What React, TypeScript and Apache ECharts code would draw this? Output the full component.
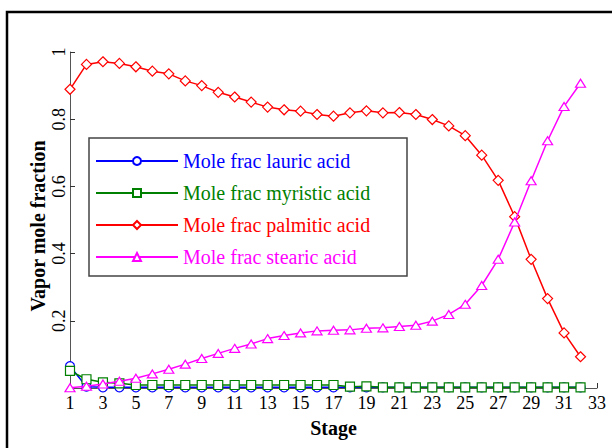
import React, { useEffect, useRef } from "react";
import * as echarts from "echarts";

const stages = [1,2,3,4,5,6,7,8,9,10,11,12,13,14,15,16,17,18,19,20,21,22,23,24,25,26,27,28,29,30,31,32];
const lauric = [0.065,0.004,0.002,0.002,0.002,0.002,0.002,0.002,0.002,0.002,0.002,0.002,0.002,0.002,0.002,0.002,0.002,0.002,0.002,0.002,0.002,0.002,0.002,0.002,0.002,0.002,0.002,0.002,0.002,0.002,0.002,0.002];
const myristic = [0.051,0.026,0.017,0.014,0.009,0.009,0.009,0.009,0.009,0.009,0.009,0.009,0.009,0.009,0.009,0.009,0.009,0.004,0.005,0.002,0.002,0.002,0.002,0.002,0.002,0.002,0.002,0.002,0.002,0.002,0.002,0.002];
const palmitic = [0.889,0.963,0.971,0.966,0.956,0.943,0.935,0.914,0.90,0.88,0.866,0.851,0.836,0.828,0.824,0.814,0.809,0.819,0.825,0.819,0.82,0.814,0.799,0.78,0.751,0.693,0.618,0.51,0.383,0.266,0.164,0.093];
const stearic = [0.001,0.005,0.012,0.02,0.029,0.042,0.056,0.071,0.088,0.103,0.118,0.131,0.147,0.156,0.164,0.170,0.172,0.173,0.178,0.179,0.183,0.187,0.199,0.219,0.249,0.305,0.383,0.494,0.617,0.736,0.838,0.907];

const seriesNames = ["Mole frac lauric acid", "Mole frac myristic acid", "Mole frac palmitic acid", "Mole frac stearic acid"];
const seriesColors = ["#0000ff", "#008000", "#ff0000", "#ff00ff"];
const seriesSymbols = ["circle", "rect", "diamond", "triangle"];
const seriesSizes: any[] = [9, 9, 10, [10, 8]];
const seriesValues = [lauric, myristic, palmitic, stearic];

const FONT = "Liberation Serif";

export default function App() {
  const ref = useRef<HTMLDivElement>(null);
  useEffect(() => {
    if (!ref.current) return;
    const chart = echarts.init(ref.current, null, { renderer: "svg" });
    const series = seriesValues.map((vals, i) => ({
      name: seriesNames[i],
      type: "line",
      data: stages.map((s, j) => [s, vals[j]]),
      symbol: seriesSymbols[i],
      symbolSize: seriesSizes[i],
      showAllSymbol: true,
      lineStyle: { color: seriesColors[i], width: 1.5 },
      itemStyle: { color: "#ffffff", borderColor: seriesColors[i], borderWidth: 1.2 },
      emphasis: { disabled: true },
      z: 2 + i,
    }));
    chart.setOption({
      animation: false,
      backgroundColor: "#ffffff",
      textStyle: { fontFamily: FONT },
      graphic: [
        {
          type: "rect",
          shape: { x: 7, y: 12, width: 700, height: 600 },
          style: { fill: "none", stroke: "#000000", lineWidth: 2.5 },
          z: 10,
        },
        {
          type: "rect",
          shape: { x: 89, y: 138, width: 318, height: 138 },
          style: { fill: "#ffffff", stroke: "#444444", lineWidth: 1.5 },
          z: 3,
        },
      ],
      legend: {
        orient: "vertical",
        left: 95,
        top: 151,
        padding: 0,
        itemWidth: 82,
        itemHeight: 10,
        itemGap: 12,
        z: 5,
        textStyle: { fontFamily: FONT, fontSize: 20 },
        data: seriesNames.map((n, i) => ({ name: n, textStyle: { color: seriesColors[i] } })),
      },
      grid: { left: 70, right: 15, top: 52, bottom: 60, containLabel: false },
      xAxis: {
        type: "value",
        min: 1,
        max: 33,
        interval: 2,
        name: "Stage",
        nameLocation: "middle",
        nameGap: 30,
        nameMoveOverlap: false,
        nameTextStyle: { fontFamily: FONT, fontSize: 20, fontWeight: "bold", color: "#000" },
        axisLine: { lineStyle: { color: "#555", width: 1 } },
        axisTick: { inside: true, length: 5, lineStyle: { color: "#333" } },
        axisLabel: { fontFamily: FONT, fontSize: 18, color: "#000", margin: 6 },
        splitLine: { show: false },
      },
      yAxis: {
        type: "value",
        min: 0,
        max: 1,
        interval: 0.2,
        name: "Vapor mole fraction",
        nameLocation: "middle",
        nameGap: 22,
        nameMoveOverlap: false,
        nameTextStyle: { fontFamily: FONT, fontSize: 20, fontWeight: "bold", color: "#000", padding: [0, 12, 0, 0] },
        axisLine: { show: true, lineStyle: { color: "#555", width: 1 } },
        axisTick: { show: true, inside: true, length: 5, lineStyle: { color: "#333" } },
        axisLabel: {
          fontFamily: FONT,
          fontSize: 18,
          color: "#000",
          rotate: 90,
          margin: 2,
          showMinLabel: false,
          formatter: (v: number) => (v === 0 ? "" : String(Math.round(v * 10) / 10)),
        },
        splitLine: { show: false },
      },
      series,
    });
    return () => chart.dispose();
  }, []);
  return <div ref={ref} style={{ position: "fixed", left: 0, top: 0, width: 612, height: 448, background: "#fff" }} />;
}
